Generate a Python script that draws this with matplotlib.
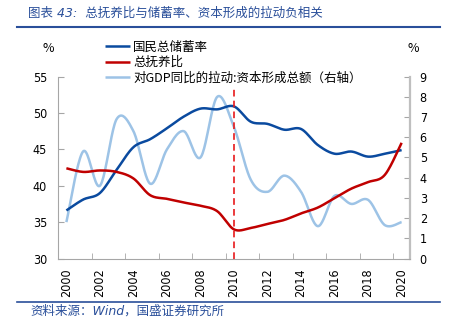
import numpy as np
import matplotlib
matplotlib.use("Agg")
import matplotlib.pyplot as plt
from matplotlib.lines import Line2D

plt.rcParams['font.family'] = ['Noto Sans CJK SC', 'DejaVu Sans']

# ---- data ----
years = list(range(2000, 2021))
savings_rate = [36.6, 38.1, 39.0, 42.2, 45.3, 46.4, 47.9, 49.5, 50.6, 50.5, 50.9,
                48.8, 48.5, 47.7, 47.8, 45.6, 44.4, 44.7, 44.0, 44.4, 44.9]
dependency_ratio = [42.4, 41.9, 42.1, 41.9, 41.0, 38.7, 38.2, 37.7, 37.25, 36.5, 34.0,
                    34.2, 34.75, 35.3, 36.2, 37.0, 38.3, 39.6, 40.5, 41.5, 45.9]
capital_pull = [1.8, 5.3, 3.6, 6.9, 6.3, 3.7, 5.4, 6.3, 5.0, 8.0, 6.5,
                3.9, 3.3, 4.1, 3.3, 1.6, 3.1, 2.7, 2.9, 1.65, 1.8]
label_savings = "国民总储蓄率"
label_dependency = "总抚养比"
label_capital = "对GDP同比的拉动:资本形成总额（右轴）"
year_ticks = list(range(2000, 2021, 2))
left_ticks = [30, 35, 40, 45, 50, 55]
right_ticks = list(range(0, 10))
marker_year = 2010

C_BLUE = '#0A4A9F'
C_RED = '#C00000'
C_LIGHT = '#9DC3E6'
C_TITLE = '#2A4F9A'
C_AXIS = '#A6A6A6'


def smooth(x, y, n=24):
    """Bezier smoothing through every point (spreadsheet-style smoothed line)."""
    x = np.asarray(x, float)
    y = np.asarray(y, float)
    px = np.concatenate([[x[0]], x, [x[-1]]])
    py = np.concatenate([[y[0]], y, [y[-1]]])
    t = np.linspace(0, 1, n)[:, None]
    xs, ys = [], []
    for i in range(len(x) - 1):
        p0 = np.array([px[i + 1], py[i + 1]])
        p3 = np.array([px[i + 2], py[i + 2]])
        c1 = p0 + (np.array([px[i + 2], py[i + 2]]) - np.array([px[i], py[i]])) / 6
        c2 = p3 - (np.array([px[i + 3], py[i + 3]]) - np.array([px[i + 1], py[i + 1]])) / 6
        pts = ((1 - t) ** 3) * p0 + 3 * ((1 - t) ** 2) * t * c1 + 3 * (1 - t) * t ** 2 * c2 + t ** 3 * p3
        if i > 0:
            pts = pts[1:]
        xs.append(pts[:, 0])
        ys.append(pts[:, 1])
    return np.concatenate(xs), np.concatenate(ys)


W, H = 450, 321
fig = plt.figure(figsize=(W / 100, H / 100), dpi=100)
fig.patch.set_facecolor('white')

ax = fig.add_axes([58 / W, 1 - 258.5 / H, 352 / W, 181.9 / H])
ax2 = ax.twinx()

sx, sy = smooth(years, savings_rate)
h1, = ax.plot(sx, sy, color=C_BLUE, lw=1.8, solid_capstyle='butt', zorder=4)
dx, dy = smooth(years, dependency_ratio)
h2, = ax.plot(dx, dy, color=C_RED, lw=1.8, solid_capstyle='butt', zorder=4)
cx, cy = smooth(years, capital_pull)
h3, = ax2.plot(cx, cy, color=C_LIGHT, lw=1.8, solid_capstyle='butt', zorder=3)

ax.set_zorder(ax2.get_zorder() + 1)
ax.patch.set_visible(False)

ax.axvline(marker_year, ymin=0, ymax=0.948, color='#E8191B', lw=1.2,
           dashes=(4, 2.5), zorder=5)

ax.set_xlim(1999.5, 2020.5)
ax.set_ylim(30, 55)
ax2.set_ylim(0, 9)

tick_font = dict(family='DejaVu Sans', stretch='condensed', size=9)

ax.set_xticks(year_ticks)
ax.set_xticklabels([str(y) for y in year_ticks], rotation=90, fontdict=tick_font)
ax.set_xticks(np.arange(2001.5, 2020, 2), minor=True)
ax.tick_params(axis='x', which='major', length=0, pad=7)
ax.tick_params(axis='x', which='minor', direction='in', length=4, color=C_AXIS)

ax.set_yticks(left_ticks)
ax.set_yticklabels([str(v) for v in left_ticks], fontdict=tick_font)
ax.tick_params(axis='y', direction='in', length=4, color=C_AXIS, pad=8)

ax2.set_yticks(right_ticks)
ax2.set_yticklabels([str(v) for v in right_ticks], fontdict=tick_font)
ax2.tick_params(axis='y', direction='in', length=4, color=C_AXIS, pad=7)

for a in (ax, ax2):
    a.spines['top'].set_visible(False)
ax.spines['left'].set_color(C_AXIS)
ax.spines['left'].set_linewidth(0.8)
ax.spines['bottom'].set_color(C_AXIS)
ax.spines['bottom'].set_linewidth(0.8)
ax.spines['right'].set_visible(False)
ax2.spines['left'].set_visible(False)
ax2.spines['bottom'].set_visible(False)
ax2.spines['right'].set_color('#BFBFBF')
ax2.spines['right'].set_linewidth(1.6)

fig.legend([h1, h2, h3], [label_savings, label_dependency, label_capital],
           loc='upper left', bbox_to_anchor=(105 / W, 1 - 40.5 / H),
           frameon=False, fontsize=9, handlelength=2.0, handletextpad=0.25,
           labelspacing=0.2, borderpad=0, borderaxespad=0)

fig.text(48 / W, 1 - 48 / H, '%', ha='center', va='center', fontsize=9)
fig.text(413 / W, 1 - 48 / H, '%', ha='center', va='center', fontsize=9)

fig.text(28 / W, 1 - 13 / H, '图表 43:  总抚养比与储蓄率、资本形成的拉动负相关',
         ha='left', va='center', fontsize=9, color=C_TITLE, style='italic',
         family=['DejaVu Sans', 'Noto Sans CJK SC'])
fig.add_artist(Line2D([17 / W, 440 / W], [1 - 26.5 / H] * 2, color=C_TITLE, lw=1.5))
fig.add_artist(Line2D([17 / W, 440 / W], [1 - 302 / H] * 2, color=C_TITLE, lw=1.2))
fig.text(30 / W, 1 - 311.5 / H, '资料来源：Wind，国盛证券研究所',
         ha='left', va='center', fontsize=9, color=C_TITLE, style='italic',
         family=['DejaVu Sans', 'Noto Sans CJK SC'])

fig.savefig('out.png', dpi=100, facecolor='white')
